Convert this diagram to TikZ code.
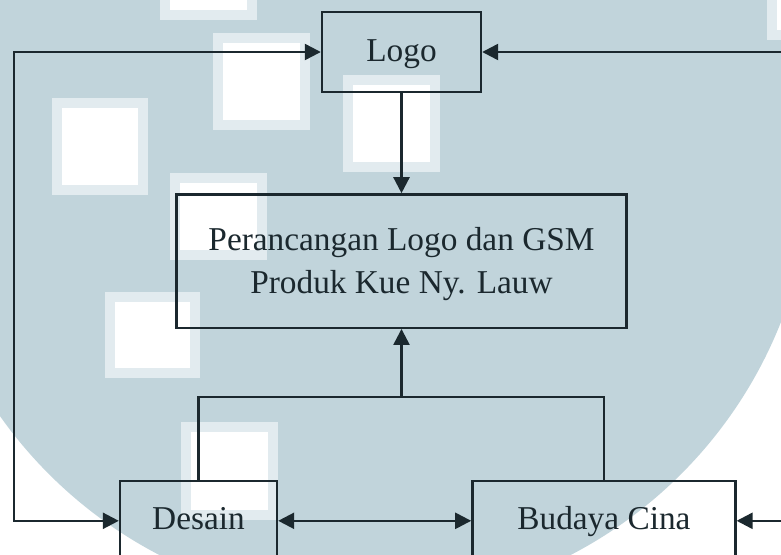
\documentclass[tikz,border=0pt]{standalone}
\usepackage{fontspec}
\setmainfont{Liberation Serif}
\usetikzlibrary{positioning, arrows.meta}
\definecolor{wmblue}{RGB}{193,212,219}
\definecolor{wmlight}{RGB}{226,235,239}
\definecolor{inkdark}{RGB}{27,40,46}

\begin{document}
\begin{tikzpicture}[
    box/.style={draw=inkdark, line width=1.8pt, text=inkdark, inner sep=0pt, align=center,
      font=\fontsize{25}{32.25}\selectfont},
    smallbox/.style={box, minimum height=60pt, text height=18.5pt, text depth=5pt},
    link/.style={draw=inkdark, line width=1.8pt},
    >={Triangle[length=12pt, width=12pt]}]
  \useasboundingbox (0,0) rectangle (585.75pt,-415.5pt);
  \clip (0,0) rectangle (585.75pt,-415.5pt);
  % watermark behind the chart
  \begin{scope}[x=0.75pt, y=-0.75pt]
    \fill[white] (0,0) rectangle (781,554);
    \fill[wmblue] (365,158) circle[radius=447];
    \foreach \xa/\ya/\xb/\yb in {160/-77/257/20, 213/33/310/130, 52/98/148/195, 343/75/440/172,
        170/173/267/260, 105/292/200/378, 181/422/278/520, 767/-50/850/40} {
      \fill[wmlight] (\xa,\ya) rectangle (\xb,\yb);
      \fill[white] (\xa+10,\ya+10) rectangle (\xb-10,\yb-10);
    }
  \end{scope}

  \node[smallbox, minimum width=119.25pt] (logo) at (301.125pt,-39pt) {Logo};
  \node[box, minimum width=337.5pt, minimum height=100pt, below=75pt of logo, text depth=1pt] (rancang)
    {Perancangan Logo dan GSM\\Produk Kue Ny. Lauw};
  \node[smallbox, minimum width=117.75pt, below=113pt of rancang, xshift=-152.25pt] (desain) {Desain};
  \node[smallbox, minimum width=197.25pt, right=144.75pt of desain] (budaya) {Budaya Cina};

  \coordinate[below=51pt of rancang] (join);
  \coordinate (lx) at (10.5pt,0);
  \coordinate (rx) at (592pt,0);
  \coordinate (rlogo) at (logo -| rx);
  \coordinate (rbudaya) at (budaya -| rx);

  \draw[link, ->] (logo) -- (rancang);
  \draw[link] (desain) |- (join) -| (budaya);
  \draw[link, ->] (join) -- (rancang);
  \draw[link, <->] (logo) -- (logo -| lx) |- (desain);
  \draw[link, <->] (desain) -- (budaya);
  \draw[link, ->] (rlogo) -- (logo);
  \draw[link, ->] (rbudaya) -- (budaya);
\end{tikzpicture}
\end{document}
